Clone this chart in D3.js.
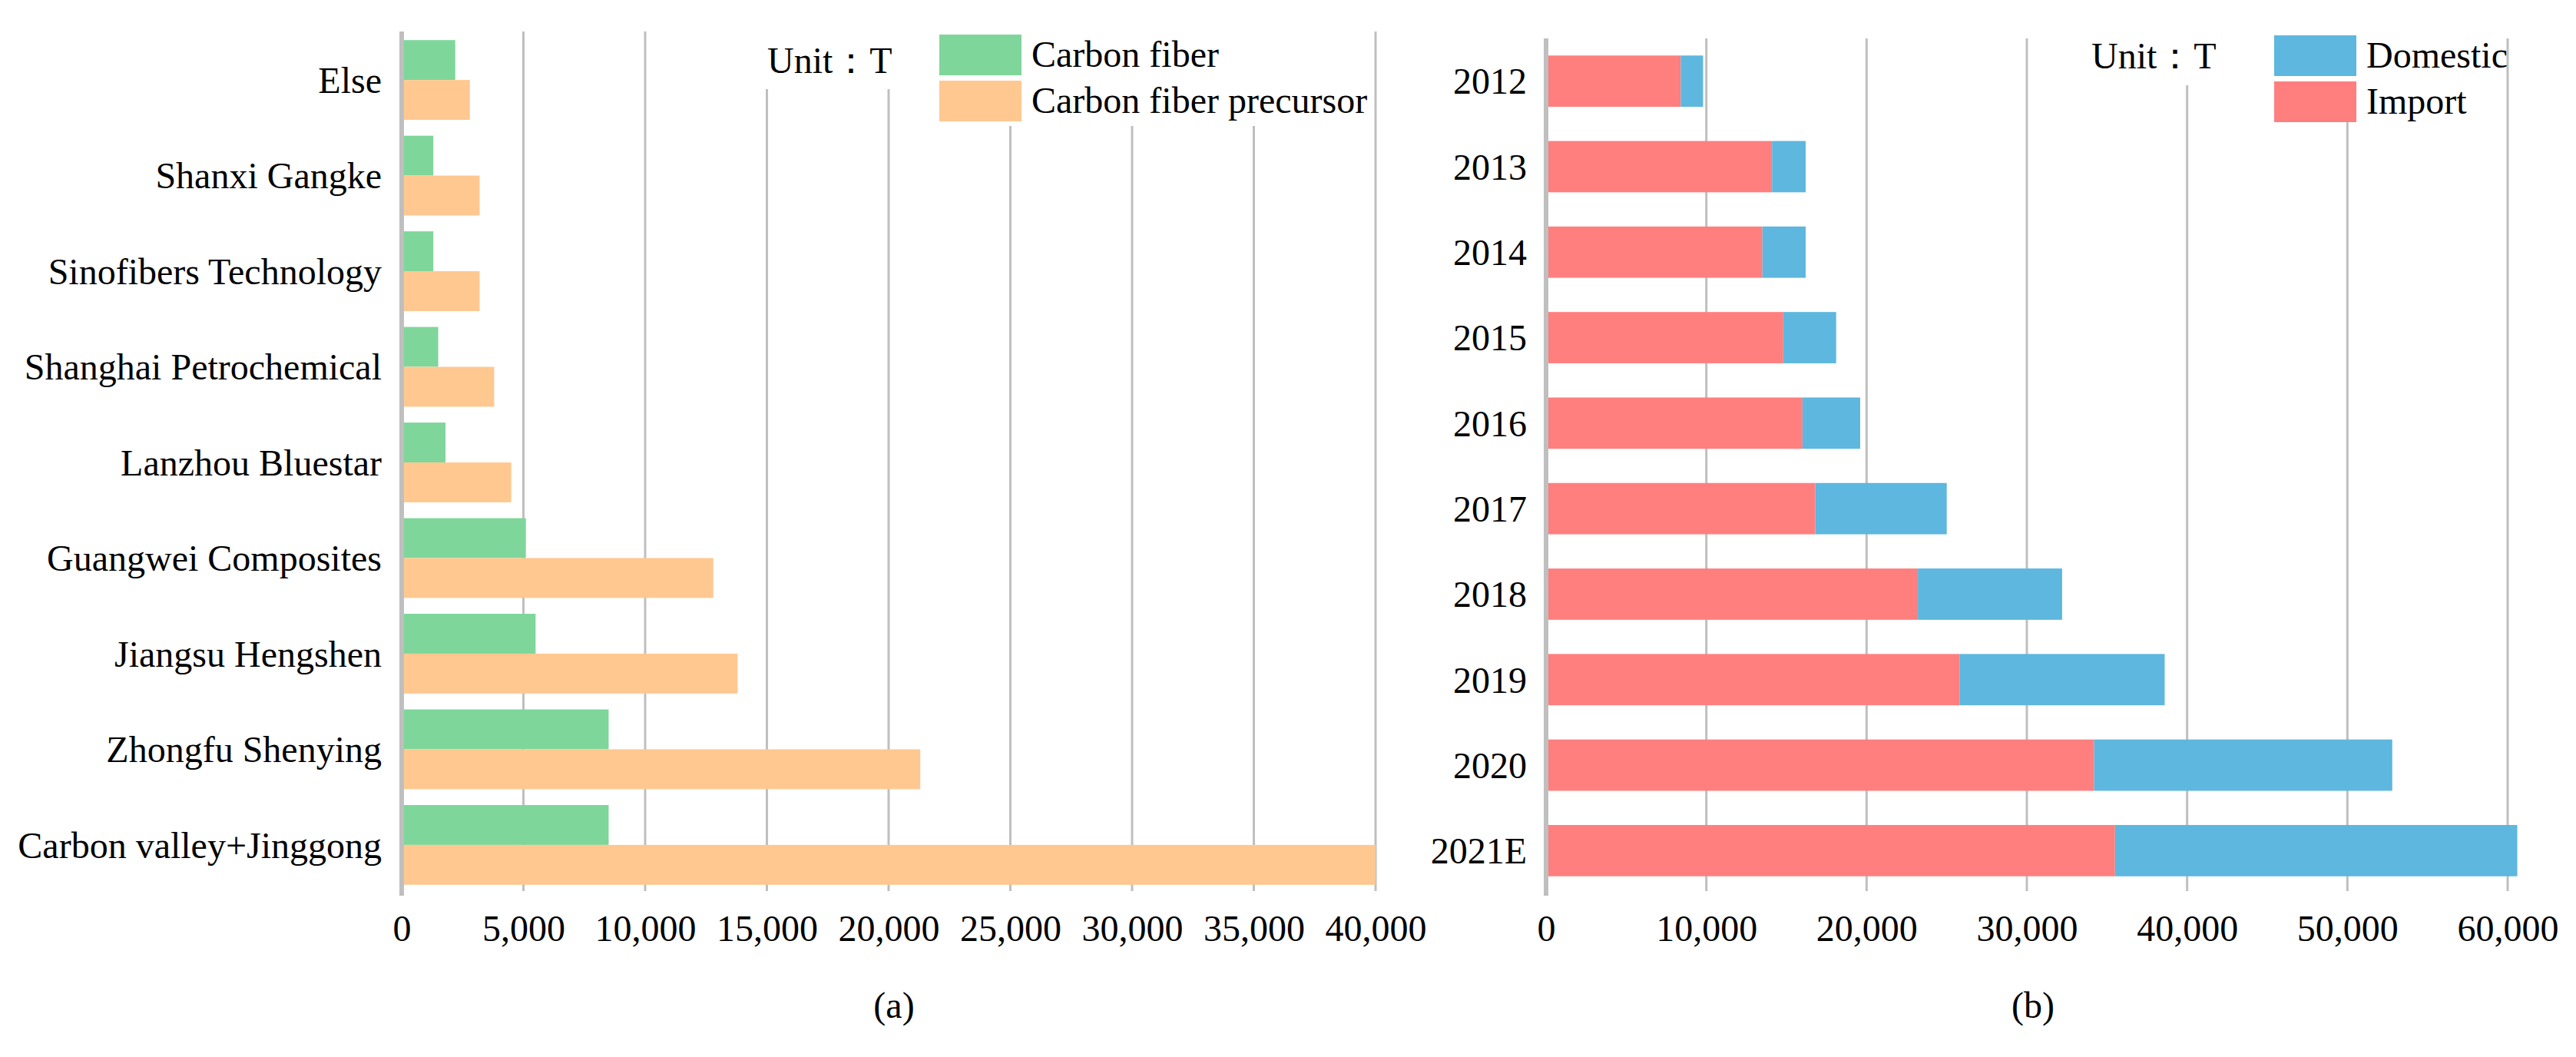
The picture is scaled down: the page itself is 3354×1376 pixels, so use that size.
<!DOCTYPE html>
<html>
<head>
<meta charset="utf-8">
<script src="https://cdn.jsdelivr.net/npm/d3@7"></script>
<style>
  body { margin: 0; background: #fff; }
  text { font-family: "Liberation Serif", "Times New Roman", serif; fill: #000; }
</style>
</head>
<body>
<div id="chart"></div>
<script>
// (a) carbon fiber / precursor capacity by company
var companies = ['Else', 'Shanxi Gangke', 'Sinofibers Technology', 'Shanghai Petrochemical',
    'Lanzhou Bluestar', 'Guangwei Composites', 'Jiangsu Hengshen', 'Zhongfu Shenying',
    'Carbon valley+Jinggong'];
var carbonFiber = [2200, 1300, 1300, 1500, 1800, 5100, 5500, 8500, 8500];
var precursor = [2800, 3200, 3200, 3800, 4500, 12800, 13800, 21300, 40000];
var ticksA = [0, 5000, 10000, 15000, 20000, 25000, 30000, 35000, 40000];

// (b) demand by year, import + domestic (stacked)
var years = ['2012', '2013', '2014', '2015', '2016', '2017', '2018', '2019', '2020', '2021E'];
var importVals = [8400, 14100, 13500, 14800, 16000, 16800, 23200, 25800, 34200, 35500];
var domesticVals = [1400, 2100, 2700, 3300, 3600, 8200, 9000, 12800, 18600, 25100];
var ticksB = [0, 10000, 20000, 30000, 40000, 50000, 60000];

var W = 3354, H = 1376;
var grey = '#bfbfbf';
var fmt = d3.format(',');

var svg = d3.select('#chart')
    .append('svg')
        .attr('width', W)
        .attr('height', H);

svg.append('rect').attr('width', W).attr('height', H).attr('fill', '#fff');

// shared bits: grid, axis line, tick labels
function frame(g, x, top, bottom, ticks) {
    g.selectAll('line.grid')
        .data(ticks.slice(1))
        .enter()
        .append('line')
            .attr('class', 'grid')
            .attr('x1', function (d) { return x(d); })
            .attr('x2', function (d) { return x(d); })
            .attr('y1', top)
            .attr('y2', bottom - 3)
            .attr('stroke', grey)
            .attr('stroke-width', 3);

    var axis = g.append('g')
        .attr('transform', 'translate(0,' + bottom + ')')
        .call(d3.axisBottom(x).tickValues(ticks).tickSize(0).tickPadding(0).tickFormat(fmt));
    axis.select('.domain').remove();
    axis.selectAll('text')
        .attr('y', 62)
        .attr('dy', 0)
        .style('font-size', '48px')
        .style('font-family', '"Liberation Serif", "Times New Roman", serif');
}

function axisLine(g, x0, top, bottom) {
    g.append('line')
        .attr('x1', x0).attr('x2', x0)
        .attr('y1', top).attr('y2', bottom + 3)
        .attr('stroke', grey)
        .attr('stroke-width', 6);
}

function whiteBox(g, x, y, w, h) {
    g.append('rect')
        .attr('x', x).attr('y', y)
        .attr('width', w).attr('height', h)
        .attr('fill', '#fff');
}

function legend(g, x, y, items) {
    items.forEach(function (it, i) {
        g.append('rect')
            .attr('x', x)
            .attr('y', y + i * 60)
            .attr('width', 107)
            .attr('height', 53)
            .attr('fill', it.color);
        g.append('text')
            .attr('x', x + 120)
            .attr('y', y + i * 60 + 42)
            .style('font-size', '48px')
            .text(it.label);
    });
}

// ---------- panel (a) ----------
var gA = svg.append('g');
var topA = 41, botA = 1163;
var xA = d3.scaleLinear().domain([0, 40000]).range([523, 1791]);
var yA = d3.scaleBand().domain(companies).range([topA, botA]).paddingInner(0.166).paddingOuter(0.09);
var half = yA.bandwidth() / 2;

frame(gA, xA, topA, botA, ticksA);

gA.selectAll('rect.cf')
    .data(carbonFiber)
    .enter()
    .append('rect')
        .attr('class', 'cf')
        .attr('x', xA(0))
        .attr('y', function (d, i) { return yA(companies[i]); })
        .attr('width', function (d) { return xA(d) - xA(0); })
        .attr('height', half)
        .attr('fill', '#7fd69a');

gA.selectAll('rect.pre')
    .data(precursor)
    .enter()
    .append('rect')
        .attr('class', 'pre')
        .attr('x', xA(0))
        .attr('y', function (d, i) { return yA(companies[i]) + half; })
        .attr('width', function (d) { return xA(d) - xA(0); })
        .attr('height', half)
        .attr('fill', '#ffc891');

axisLine(gA, xA(0), topA, botA);

gA.selectAll('text.cat')
    .data(companies)
    .enter()
    .append('text')
        .attr('class', 'cat')
        .attr('x', xA(0) - 26)
        .attr('y', function (d) { return yA(d) + yA.bandwidth() / 2; })
        .attr('dy', '0.35em')
        .attr('text-anchor', 'end')
        .style('font-size', '48px')
        .text(function (d) { return d; });

whiteBox(gA, 985, topA - 5, 190, 116 - topA + 5);
whiteBox(gA, 1210, topA - 5, 572, 164 - topA + 5);
gA.append('text').attr('x', 999).attr('y', 95).style('font-size', '48px').text('Unit：T');
legend(gA, 1223, 45, [
    { label: 'Carbon fiber', color: '#7fd69a' },
    { label: 'Carbon fiber precursor', color: '#ffc891' }
]);

gA.append('text')
    .attr('x', 1164).attr('y', 1325)
    .attr('text-anchor', 'middle')
    .style('font-size', '48px')
    .text('(a)');

// ---------- panel (b) ----------
var gB = svg.append('g');
var topB = 50, botB = 1163;
var xB = d3.scaleLinear().domain([0, 60000]).range([2013, 3265]);
var yB = d3.scaleBand().domain(years).range([topB, botB]).paddingInner(0.4).paddingOuter(0.2);

frame(gB, xB, topB, botB, ticksB);

var stack = years.map(function (y, i) {
    return { year: y, imp: importVals[i], dom: domesticVals[i] };
});

gB.selectAll('rect.imp')
    .data(stack)
    .enter()
    .append('rect')
        .attr('class', 'imp')
        .attr('x', xB(0))
        .attr('y', function (d) { return yB(d.year); })
        .attr('width', function (d) { return xB(d.imp) - xB(0); })
        .attr('height', yB.bandwidth())
        .attr('fill', '#ff7f7f');

gB.selectAll('rect.dom')
    .data(stack)
    .enter()
    .append('rect')
        .attr('class', 'dom')
        .attr('x', function (d) { return xB(d.imp); })
        .attr('y', function (d) { return yB(d.year); })
        .attr('width', function (d) { return xB(d.imp + d.dom) - xB(d.imp); })
        .attr('height', yB.bandwidth())
        .attr('fill', '#5db7df');

axisLine(gB, xB(0), topB, botB);

gB.selectAll('text.cat')
    .data(years)
    .enter()
    .append('text')
        .attr('class', 'cat')
        .attr('x', xB(0) - 25)
        .attr('y', function (d) { return yB(d) + yB.bandwidth() / 2; })
        .attr('dy', '0.35em')
        .attr('text-anchor', 'end')
        .style('font-size', '48px')
        .text(function (d) { return d; });

whiteBox(gB, 2715, topB - 5, 180, 111 - topB + 5);
whiteBox(gB, 2950, topB - 5, 310, 158 - topB + 5);
gB.append('text').attr('x', 2723).attr('y', 89).style('font-size', '48px').text('Unit：T');
legend(gB, 2961, 46, [
    { label: 'Domestic', color: '#5db7df' },
    { label: 'Import', color: '#ff7f7f' }
]);

gB.append('text')
    .attr('x', 2647).attr('y', 1325)
    .attr('text-anchor', 'middle')
    .style('font-size', '48px')
    .text('(b)');
</script>
</body>
</html>
